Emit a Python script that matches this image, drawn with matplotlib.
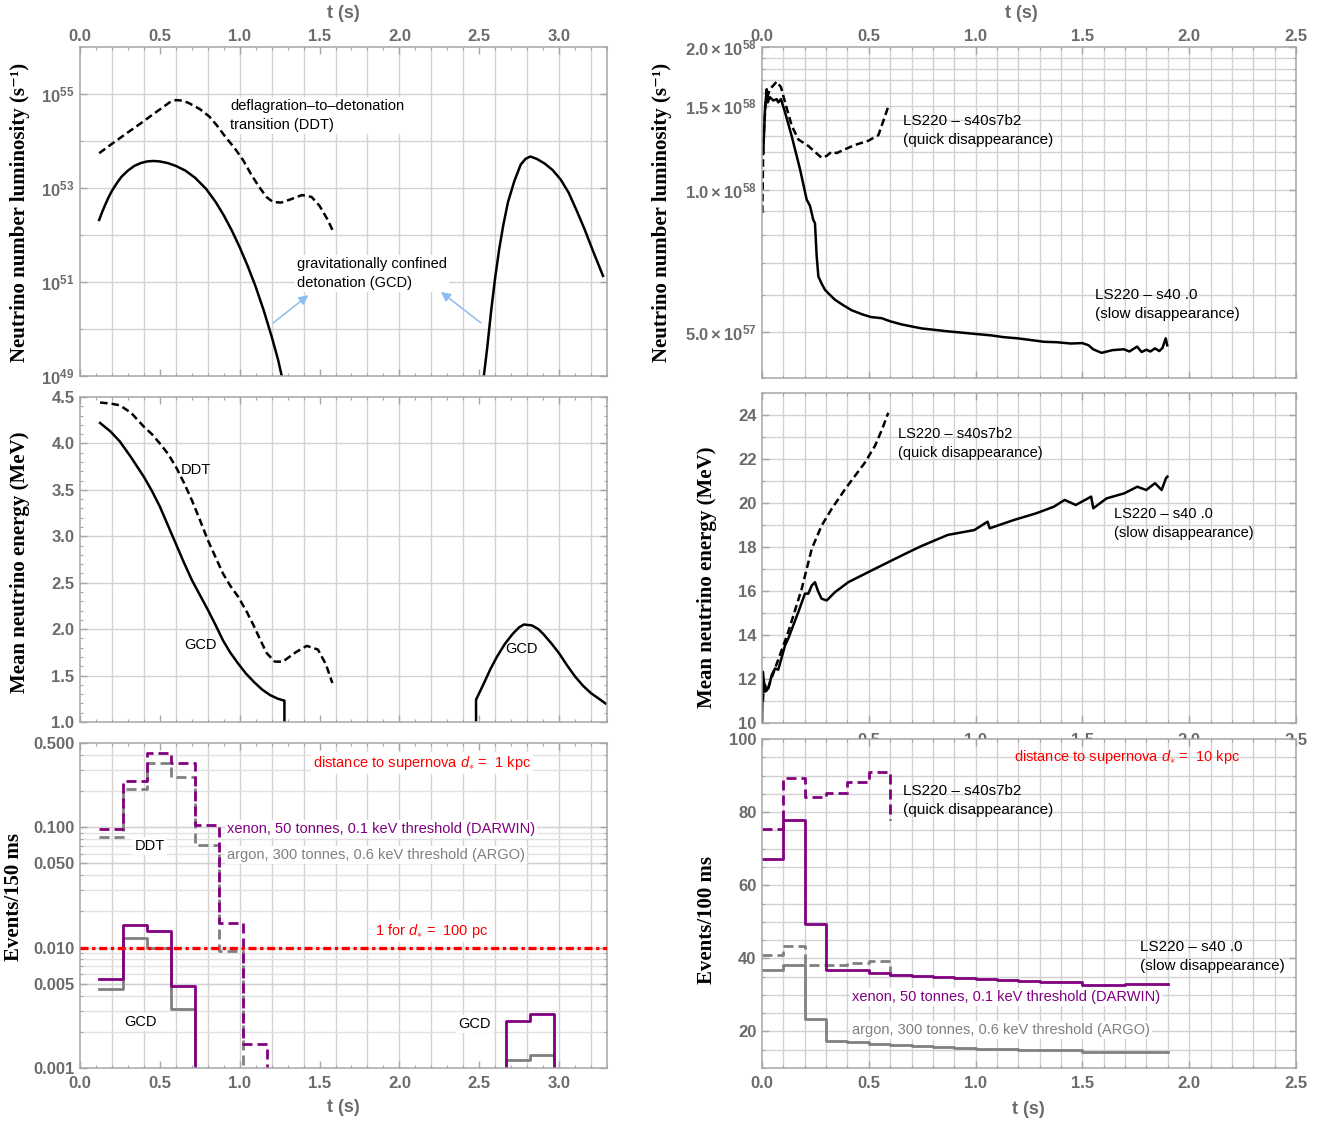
import numpy as np
import matplotlib.pyplot as plt

plt.rcParams['font.family'] = ['Liberation Sans', 'DejaVu Sans']
plt.rcParams['font.weight'] = 'bold'
plt.rcParams['mathtext.fontset'] = 'custom'
plt.rcParams['mathtext.rm'] = 'Liberation Sans:normal'
plt.rcParams['mathtext.it'] = 'Liberation Sans:italic:normal'
plt.rcParams['mathtext.bf'] = 'Liberation Sans:bold'
plt.rcParams['mathtext.default'] = 'bf'

# ---------------- left column: type Ia models ----------------
# luminosity, log10 of s^-1
t_lum_ddt = [0.12, 0.20, 0.29, 0.37, 0.45, 0.52, 0.56, 0.60, 0.64, 0.68, 0.75, 0.81, 0.86, 0.91,
             0.97, 1.02, 1.07, 1.12, 1.17, 1.21, 1.26, 1.32, 1.39, 1.45, 1.50, 1.55, 1.58]
log_lum_ddt = [53.74, 53.94, 54.16, 54.35, 54.55, 54.72, 54.82, 54.87, 54.86, 54.81, 54.68, 54.52,
               54.32, 54.09, 53.84, 53.60, 53.30, 53.03, 52.80, 52.70, 52.69, 52.76, 52.85, 52.81,
               52.62, 52.33, 52.11]

t_lum_gcd = [0.12, 0.14, 0.16, 0.18, 0.20, 0.23, 0.26, 0.30, 0.34, 0.38, 0.42, 0.46, 0.50, 0.55,
             0.60, 0.66, 0.72, 0.79, 0.85, 0.90, 0.95, 1.00, 1.05, 1.10, 1.15, 1.20, 1.24, 1.27]
log_lum_gcd = [52.32, 52.50, 52.66, 52.81, 52.94, 53.10, 53.24, 53.37, 53.47, 53.53, 53.565, 53.575,
               53.565, 53.53, 53.47, 53.37, 53.22, 52.98, 52.70, 52.42, 52.10, 51.74, 51.34, 50.90,
               50.40, 49.84, 49.35, 48.90]

t_lum_gcd2 = [2.525, 2.55, 2.575, 2.60, 2.625, 2.65, 2.68, 2.72, 2.76, 2.79, 2.82, 2.86, 2.91,
              2.96, 3.01, 3.06, 3.11, 3.16, 3.21, 3.275]
log_lum_gcd2 = [48.90, 49.60, 50.40, 51.10, 51.70, 52.20, 52.70, 53.15, 53.50, 53.62, 53.67, 53.62,
                53.52, 53.38, 53.18, 52.90, 52.52, 52.12, 51.68, 51.13]

# mean energy, MeV
t_en_ddt = [0.126, 0.19, 0.25, 0.32, 0.40, 0.45, 0.50, 0.55, 0.60, 0.65, 0.70, 0.75, 0.80, 0.85,
            0.895, 0.94, 0.99, 1.04, 1.09, 1.13, 1.17, 1.22, 1.27, 1.31, 1.35, 1.42, 1.49, 1.54, 1.58]
en_ddt = [4.44, 4.43, 4.41, 4.33, 4.18, 4.10, 4.00, 3.89, 3.75, 3.58, 3.39, 3.18, 2.96, 2.77,
          2.60, 2.47, 2.35, 2.20, 2.03, 1.88, 1.74, 1.65, 1.65, 1.70, 1.75, 1.82, 1.78, 1.62, 1.42]

t_en_gcd = [0.126, 0.19, 0.25, 0.32, 0.40, 0.45, 0.50, 0.55, 0.60, 0.65, 0.70, 0.75, 0.80, 0.85,
            0.895, 0.94, 0.99, 1.04, 1.09, 1.14, 1.19, 1.24, 1.28, 1.28]
en_gcd = [4.22, 4.13, 4.02, 3.85, 3.64, 3.49, 3.32, 3.12, 2.92, 2.72, 2.53, 2.37, 2.21, 2.04,
          1.88, 1.75, 1.63, 1.52, 1.43, 1.35, 1.29, 1.25, 1.23, 0.9]

t_en_gcd2 = [2.48, 2.48, 2.53, 2.57, 2.61, 2.66, 2.71, 2.75, 2.78, 2.83, 2.87, 2.90, 2.95, 3.00,
             3.05, 3.10, 3.15, 3.20, 3.25, 3.29]
en_gcd2 = [0.9, 1.24, 1.42, 1.57, 1.70, 1.84, 1.95, 2.02, 2.05, 2.04, 2.00, 1.95, 1.85, 1.74,
           1.61, 1.49, 1.39, 1.31, 1.25, 1.20]

# events per 150 ms bin, d = 1 kpc
edges_ia = [0.12, 0.27, 0.42, 0.57, 0.72, 0.87, 1.02, 1.17]
xe_ddt = [0.096, 0.243, 0.416, 0.343, 0.104, 0.0161, 0.00158]
ar_ddt = [0.0834, 0.207, 0.340, 0.259, 0.0711, 0.00937]
xe_gcd = [0.00548, 0.0154, 0.0138, 0.0048]
ar_gcd = [0.00451, 0.0119, 0.0100, 0.00308]
edges_ia_late = [2.67, 2.82, 2.97]
xe_gcd_late = [0.00245, 0.00279]
ar_gcd_late = [0.00116, 0.00128]
one_event_100pc = 0.01
floor_events = 1e-4  # below the axis: line leaves the plot

# ---------------- right column: failed supernovae ----------------
# luminosity in units of 1e58 s^-1
t_lum_slow = [0.006, 0.014, 0.022, 0.027, 0.037, 0.053, 0.069, 0.076, 0.089, 0.108, 0.139, 0.178,
              0.209, 0.225, 0.240, 0.248, 0.256, 0.264, 0.28, 0.295, 0.32, 0.342, 0.38, 0.42,
              0.47, 0.51, 0.56, 0.60, 0.654, 0.70, 0.748, 0.80, 0.868, 0.93, 0.99, 1.074, 1.13,
              1.198, 1.26, 1.32, 1.38, 1.446, 1.50, 1.529, 1.55, 1.59, 1.64, 1.694, 1.72, 1.756,
              1.777, 1.80, 1.818, 1.84, 1.86, 1.875, 1.89, 1.897]
lum_slow = [1.197, 1.479, 1.629, 1.528, 1.567, 1.542, 1.552, 1.528, 1.552, 1.455, 1.297, 1.104,
            0.953, 0.923, 0.863, 0.849, 0.723, 0.655, 0.632, 0.614, 0.598, 0.585, 0.570, 0.556,
            0.545, 0.538, 0.535, 0.527, 0.519, 0.514, 0.509, 0.506, 0.502, 0.499, 0.496, 0.492,
            0.488, 0.485, 0.481, 0.477, 0.476, 0.473, 0.474, 0.469, 0.460, 0.452, 0.458, 0.460,
            0.455, 0.466, 0.454, 0.459, 0.455, 0.462, 0.456, 0.463, 0.485, 0.469]
t_lum_quick = [0.0015, 0.006, 0.017, 0.037, 0.069, 0.089, 0.108, 0.139, 0.170, 0.217, 0.279,
               0.303, 0.326, 0.35, 0.373, 0.435, 0.498, 0.545, 0.568, 0.591]
lum_quick = [0.893, 1.256, 1.528, 1.629, 1.690, 1.644, 1.528, 1.365, 1.276, 1.236, 1.167,
             1.178, 1.202, 1.194, 1.208, 1.242, 1.268, 1.303, 1.396, 1.496]

# mean energy, MeV
t_en_slow = [0.0, 0.004, 0.014, 0.03, 0.045, 0.061, 0.076, 0.108, 0.123, 0.170, 0.201, 0.217,
             0.233, 0.248, 0.262, 0.279, 0.303, 0.342, 0.404, 0.498, 0.591, 0.685, 0.748, 0.87,
             0.994, 1.056, 1.066, 1.18, 1.283, 1.366, 1.417, 1.469, 1.541, 1.551, 1.613, 1.696,
             1.757, 1.799, 1.84, 1.871, 1.891, 1.898]
en_slow = [10.0, 12.33, 11.42, 11.57, 12.17, 12.48, 12.42, 13.53, 13.84, 15.04, 15.88, 15.88,
           16.25, 16.40, 16.0, 15.65, 15.57, 15.95, 16.40, 16.86, 17.31, 17.76, 18.05, 18.55,
           18.77, 19.15, 18.85, 19.23, 19.53, 19.83, 20.14, 19.91, 20.29, 19.76, 20.21, 20.44,
           20.74, 20.59, 20.90, 20.59, 21.12, 21.2]
t_en_quick = [0.004, 0.01, 0.022, 0.061, 0.123, 0.186, 0.233, 0.279, 0.326, 0.389, 0.482,
              0.529, 0.561, 0.591]
en_quick = [11.0, 11.9, 11.42, 12.48, 14.14, 16.10, 17.92, 18.97, 19.73, 20.63, 21.84,
            22.60, 23.32, 24.1]

# events per 100 ms bin, d = 10 kpc
edges_fs = [0.0, 0.1, 0.2, 0.3, 0.4, 0.5, 0.6, 0.7, 0.8, 0.9, 1.0, 1.1, 1.2, 1.3, 1.4,
            1.5, 1.6, 1.7, 1.8, 1.9]
xe_slow = [67.2, 77.9, 49.5, 36.8, 36.8, 36.1, 35.5, 35.1, 34.8, 34.6, 34.3, 34.0, 33.8,
           33.6, 33.4, 32.6, 32.7, 33.0, 33.1]
ar_slow = [36.7, 38.3, 23.5, 17.5, 17.1, 16.6, 16.2, 15.9, 15.7, 15.5, 15.3, 15.1, 15.0,
           14.9, 14.8, 14.5, 14.5, 14.5, 14.5]
xe_quick = [75.3, 89.3, 84.0, 85.2, 88.3, 91.1]
xe_quick_end = 77.8
ar_quick = [40.8, 43.3, 38.3, 38.1, 38.8, 39.2]
ar_quick_end = 33.7

# ---------------- styling ----------------
W, H = 1330, 1123
FRAME = '#a6a6a6'
TICKLAB = '#6b6b6b'
GRID = '#d2d2d2'
GRID_MINOR = '#e2e2e2'
PURPLE = '#800080'
GRAY = '#808080'
RED = '#ff0000'
ARROW = '#8dbcf0'
DASH = (3.0, 1.6)
HDASH = (3.6, 1.8)
LW = 1.8

fig = plt.figure(figsize=(W / 100, H / 100), dpi=100)


def px_axes(x0, y0, x1, y1):
    return fig.add_axes([x0 / W, 1 - y1 / H, (x1 - x0) / W, (y1 - y0) / H])


def frame(ax):
    for s in ax.spines.values():
        s.set_color(FRAME)
        s.set_linewidth(1.1)
    ax.tick_params(which='both', direction='in', top=True, right=True,
                   color=FRAME, labelcolor=TICKLAB, labelsize=12, pad=4)
    ax.tick_params(which='major', length=5, width=1)
    ax.tick_params(which='minor', length=2.5, width=0.8)


def vgrid(ax, positions, color=GRID):
    for p in positions:
        ax.axvline(p, color=color, lw=1.0, zorder=0)


def hgrid(ax, positions, color=GRID):
    for p in positions:
        ax.axhline(p, color=color, lw=1.0, zorder=0)


def steps(ax, edges, vals, start_from=None, end_at=None, **kw):
    x, y = [], []
    if start_from is not None:
        x.append(edges[0])
        y.append(start_from)
    for i, v in enumerate(vals):
        x += [edges[i], edges[i + 1]]
        y += [v, v]
    if end_at is not None:
        x.append(edges[len(vals)])
        y.append(end_at)
    ax.plot(x, y, **kw)


def note(ax, x, y, s, color='black', size=10.5, box=True, **kw):
    bb = dict(facecolor='white', edgecolor='none', pad=1.5) if box else None
    ax.text(x, y, s, color=color, fontsize=size, fontweight='normal', bbox=bb,
            va='center', ha='left', linespacing=1.45, zorder=5, **kw)


def ylab(x, y, s):
    fig.text(x / W, 1 - y / H, s, rotation=90, ha='center', va='center',
             family=['Liberation Serif', 'DejaVu Serif'], fontsize=15, fontweight='bold')


def xlab(x, y, s):
    fig.text(x / W, 1 - y / H, s, ha='center', va='center', color=TICKLAB,
             fontsize=13, fontweight='bold')


def left_x(ax, labels):
    ax.set_xlim(0, 3.3)
    ax.set_xticks(np.arange(0, 3.01, 0.5))
    ax.set_xticks(np.arange(0, 3.31, 0.1), minor=True)
    vgrid(ax, np.arange(0.2, 3.3, 0.2))
    if labels == 'top':
        ax.tick_params(axis='x', labeltop=True, labelbottom=False, pad=2)
    elif labels == 'bottom':
        ax.tick_params(axis='x', labelbottom=True, pad=6)
    else:
        ax.tick_params(axis='x', labelbottom=False)


def right_x(ax, labels):
    ax.set_xlim(0, 2.5)
    ax.set_xticks(np.arange(0, 2.51, 0.5))
    ax.set_xticks(np.arange(0, 2.51, 0.1), minor=True)
    vgrid(ax, np.arange(0.1, 2.5, 0.1))
    if labels == 'top':
        ax.tick_params(axis='x', labeltop=True, labelbottom=False, pad=2)
    elif labels == 'hidden':
        # labels sit under the panel below, only their tops show
        ax.set_xticklabels(['', '0.5', '1.0', '1.5', '2.0', '2.5'])
        ax.tick_params(axis='x', labelbottom=True, pad=7.5)
    else:
        ax.tick_params(axis='x', labelbottom=True, pad=6)


dec = lambda v: [10.0 ** x for x in v]
DSTAR = r'$\mathit{d}_{\ast}$'

# ---- top left: luminosity ----
ax = px_axes(80, 47, 607, 376)
frame(ax)
ax.set_yscale('log')
ax.set_ylim(1e49, 1e56)
left_x(ax, 'top')
hgrid(ax, [10.0 ** d for d in range(50, 56)])
ax.set_yticks([1e49, 1e51, 1e53, 1e55])
ax.set_yticklabels([r'$10^{49}$', r'$10^{51}$', r'$10^{53}$', r'$10^{55}$'])
ax.set_yticks([10.0 ** d for d in range(49, 57)], minor=True)
ax.set_yticklabels([], minor=True)
ax.plot(t_lum_ddt, dec(log_lum_ddt), color='black', lw=LW, dashes=DASH)
ax.plot(t_lum_gcd, dec(log_lum_gcd), color='black', lw=LW)
ax.plot(t_lum_gcd2, dec(log_lum_gcd2), color='black', lw=LW)
note(ax, 0.94, 10 ** 54.55, 'deflagration\u2013to\u2013detonation\ntransition (DDT)')
note(ax, 1.36, 10 ** 51.19, 'gravitationally confined\ndetonation (GCD)')
arr = dict(arrowstyle='-|>', color=ARROW, lw=1.1, mutation_scale=14, shrinkA=0, shrinkB=0)
ax.annotate('', xy=(1.43, 10 ** 50.72), xytext=(1.21, 10 ** 50.13), arrowprops=arr)
ax.annotate('', xy=(2.26, 10 ** 50.79), xytext=(2.51, 10 ** 50.13), arrowprops=arr)

# ---- middle left: energy ----
ax = px_axes(80, 397, 607, 722)
frame(ax)
ax.set_ylim(1.0, 4.5)
left_x(ax, None)
ax.set_yticks(np.arange(1.0, 4.51, 0.5))
ax.set_yticklabels(['%.1f' % v for v in np.arange(1.0, 4.51, 0.5)])
ax.set_yticks(np.arange(1.0, 4.51, 0.1), minor=True)
hgrid(ax, np.arange(1.5, 4.5, 0.5))
ax.plot(t_en_ddt, en_ddt, color='black', lw=LW, dashes=DASH)
ax.plot(t_en_gcd, en_gcd, color='black', lw=LW)
ax.plot(t_en_gcd2, en_gcd2, color='black', lw=LW)
note(ax, 0.63, 3.71, 'DDT', box=False)
note(ax, 0.655, 1.83, 'GCD', box=False)
note(ax, 2.66, 1.79, 'GCD', box=False)

# ---- bottom left: events ----
ax = px_axes(80, 743, 607, 1068)
frame(ax)
ax.set_yscale('log')
ax.set_ylim(0.001, 0.5)
left_x(ax, 'bottom')
minor = [m * 10.0 ** d for d in (-3, -2, -1) for m in range(1, 10)]
hgrid(ax, [v for v in minor if 0.001 < v < 0.5], color=GRID_MINOR)
hgrid(ax, [0.005, 0.01, 0.05, 0.1])
ax.set_yticks([0.001, 0.005, 0.01, 0.05, 0.1, 0.5])
ax.set_yticklabels(['0.001', '0.005', '0.010', '0.050', '0.100', '0.500'])
ax.set_yticks([v for v in minor if v <= 0.5], minor=True)
ax.set_yticklabels([], minor=True)
ax.axhline(one_event_100pc, color=RED, lw=2.4, dashes=(2.4, 1.1, 1.0, 1.1), zorder=4)
steps(ax, edges_ia, ar_ddt, end_at=floor_events, color=GRAY, lw=2, dashes=HDASH)
steps(ax, edges_ia, xe_ddt, end_at=floor_events, color=PURPLE, lw=2, dashes=HDASH)
steps(ax, edges_ia, ar_gcd, end_at=floor_events, color=GRAY, lw=2)
steps(ax, edges_ia, xe_gcd, end_at=floor_events, color=PURPLE, lw=2)
steps(ax, edges_ia_late, ar_gcd_late, start_from=floor_events, end_at=floor_events, color=GRAY, lw=2)
steps(ax, edges_ia_late, xe_gcd_late, start_from=floor_events, end_at=floor_events, color=PURPLE, lw=2)
note(ax, 1.46, 0.341, 'distance to supernova ' + DSTAR + ' =  1 kpc', color=RED)
note(ax, 1.85, 0.0137, '1 for ' + DSTAR + ' =  100 pc', color=RED)
note(ax, 0.92, 0.0966, 'xenon, 50 tonnes, 0.1 keV threshold (DARWIN)', color=PURPLE)
note(ax, 0.92, 0.0588, 'argon, 300 tonnes, 0.6 keV threshold (ARGO)', color=GRAY)
note(ax, 0.34, 0.0698, 'DDT')
note(ax, 0.28, 0.00241, 'GCD')
note(ax, 2.37, 0.00232, 'GCD')

# ---- top right: luminosity ----
ax = px_axes(762, 47, 1296, 378)
frame(ax)
ax.set_yscale('log')
ax.set_ylim(4e57, 2e58)
right_x(ax, 'top')
hgrid(ax, np.arange(5e57, 1.95e58, 1e57))
ax.set_yticks([5e57, 1e58, 1.5e58, 2e58])
ax.set_yticklabels([r'$5.0\times10^{57}$', r'$1.0\times10^{58}$',
                    r'$1.5\times10^{58}$', r'$2.0\times10^{58}$'])
ax.set_yticks(np.arange(4e57, 2.01e58, 1e57), minor=True)
ax.set_yticklabels([], minor=True)
ax.plot(t_lum_quick, [v * 1e58 for v in lum_quick], color='black', lw=LW, dashes=DASH)
ax.plot(t_lum_slow, [v * 1e58 for v in lum_slow], color='black', lw=LW)
note(ax, 0.66, 1.33e58, 'LS220 \u2013 s40s7b2\n(quick disappearance)', box=False, size=11)
note(ax, 1.56, 5.72e57, 'LS220 \u2013 s40 .0\n(slow disappearance)', box=False, size=11)

# ---- middle right: energy ----
ax = px_axes(762, 393, 1296, 723)
frame(ax)
ax.set_ylim(10, 25)
right_x(ax, 'hidden')
ax.set_yticks(np.arange(10, 25, 2))
ax.set_yticks(np.arange(10, 26, 1), minor=True)
hgrid(ax, np.arange(11, 25, 1))
ax.plot(t_en_quick, en_quick, color='black', lw=LW, dashes=DASH)
ax.plot(t_en_slow, en_slow, color='black', lw=LW)
note(ax, 0.637, 22.71, 'LS220 \u2013 s40s7b2\n(quick disappearance)', box=False)
note(ax, 1.65, 19.06, 'LS220 \u2013 s40 .0\n(slow disappearance)', box=False)

# ---- bottom right: events ----
ax = px_axes(762, 739, 1296, 1068)
frame(ax)
ax.set_ylim(10, 100)
right_x(ax, 'bottom')
ax.set_yticks(np.arange(20, 101, 20))
ax.set_yticks(np.arange(10, 101, 5), minor=True)
hgrid(ax, np.arange(15, 100, 5))
steps(ax, edges_fs, ar_quick, end_at=ar_quick_end, color=GRAY, lw=2, dashes=HDASH)
steps(ax, edges_fs, xe_quick, end_at=xe_quick_end, color=PURPLE, lw=2, dashes=HDASH)
steps(ax, edges_fs, ar_slow, color=GRAY, lw=2)
steps(ax, edges_fs, xe_slow, color=PURPLE, lw=2)
note(ax, 1.18, 95.1, 'distance to supernova ' + DSTAR + ' =  10 kpc', color=RED, box=False)
note(ax, 0.66, 83.2, 'LS220 \u2013 s40s7b2\n(quick disappearance)', box=False, size=11)
note(ax, 1.77, 40.5, 'LS220 \u2013 s40 .0\n(slow disappearance)', box=False, size=11)
note(ax, 0.42, 29.5, 'xenon, 50 tonnes, 0.1 keV threshold (DARWIN)', color=PURPLE)
note(ax, 0.42, 20.5, 'argon, 300 tonnes, 0.6 keV threshold (ARGO)', color=GRAY)

# ---- axis titles ----
ylab(20, 212, 'Neutrino number luminosity (s\u207b\u00b9)')
ylab(20, 562, 'Mean neutrino energy (MeV)')
ylab(14, 897, 'Events/150 ms')
ylab(662, 212, 'Neutrino number luminosity (s\u207b\u00b9)')
ylab(707, 577, 'Mean neutrino energy (MeV)')
ylab(707, 920, 'Events/100 ms')
xlab(343, 13, 't (s)')
xlab(1021, 13, 't (s)')
xlab(343, 1108, 't (s)')
xlab(1028, 1110, 't (s)')

fig.savefig('out.png', dpi=100)
